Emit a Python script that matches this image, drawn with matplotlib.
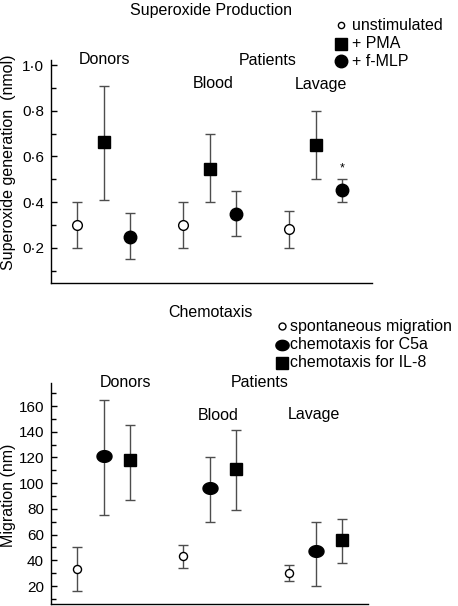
import numpy as np
import matplotlib
matplotlib.use("Agg")
import matplotlib.pyplot as plt
from matplotlib.path import Path
from matplotlib.lines import Line2D

plt.rcParams['font.family'] = ['Liberation Sans', 'DejaVu Sans']
plt.rcParams['font.size'] = 11.5

# ---------------- data ----------------
# Superoxide production (nmol): groups Donors, Blood, Lavage
sup_x_unstim = [1, 5, 9]
sup_x_pma = [2, 6, 10]
sup_x_fmlp = [3, 7, 11]
sup_unstim = [0.30, 0.30, 0.28]
sup_unstim_lo = [0.20, 0.20, 0.20]
sup_unstim_hi = [0.40, 0.40, 0.36]
sup_pma = [0.664, 0.545, 0.65]
sup_pma_lo = [0.41, 0.40, 0.50]
sup_pma_hi = [0.91, 0.70, 0.80]
sup_fmlp = [0.248, 0.347, 0.453]
sup_fmlp_lo = [0.15, 0.25, 0.40]
sup_fmlp_hi = [0.35, 0.45, 0.50]
sup_ticks = [0.2, 0.4, 0.6, 0.8, 1.0]
sup_ticklabels = ['0·2', '0·4', '0·6', '0·8', '1·0']
sup_minor = [0.1, 0.3, 0.5, 0.7, 0.9]

# Chemotaxis migration (nm)
che_x_spont = [1, 5, 9]
che_x_c5a = [2, 6, 10]
che_x_il8 = [3, 7, 11]
che_spont = [33, 43, 30]
che_spont_lo = [16, 34, 24]
che_spont_hi = [50, 52, 36]
che_c5a = [121, 96, 47]
che_c5a_lo = [75, 70, 20]
che_c5a_hi = [165, 120, 70]
che_il8 = [118, 111, 56]
che_il8_lo = [87, 79, 38]
che_il8_hi = [145, 141, 72]
che_ticks = [20, 40, 60, 80, 100, 120, 140, 160]
che_minor = [10, 30, 50, 70, 90, 110, 130, 150, 170]

W, H = 458, 606
fig = plt.figure(figsize=(W / 100, H / 100), dpi=100)

def fx(px):
    return px / W

def fy(py):
    return 1 - py / H

# elliptical marker
t = np.linspace(0, 2 * np.pi, 60)
ellipse = Path(np.column_stack([1.28 * np.cos(t), np.sin(t)]), closed=True)

ecol = '#4d4d4d'

def style_axes(ax):
    for s in ['top', 'right']:
        ax.spines[s].set_visible(False)
    for s in ['left', 'bottom']:
        ax.spines[s].set_linewidth(1.0)
        ax.spines[s].set_color('black')
    ax.tick_params(axis='x', which='both', bottom=False, labelbottom=False)
    ax.tick_params(axis='y', which='major', direction='in', length=4, width=1, pad=4.8, labelsize=11)
    ax.tick_params(axis='y', which='minor', direction='in', length=3.5, width=1)

def eb(ax, x, y, lo, hi, **kw):
    y = np.array(y); lo = np.array(lo); hi = np.array(hi)
    ax.errorbar(x, y, yerr=[y - lo, hi - y], fmt='none', ecolor=ecol,
                elinewidth=1.0, capsize=3.7, capthick=1.0, zorder=2)
    ax.plot(x, y, linestyle='none', zorder=3, **kw)

# ---------------- top panel ----------------
ax1 = fig.add_axes([fx(50.7), fy(282.7), (372 - 50.7) / W, (282.7 - 60) / H])
style_axes(ax1)
ax1.set_xlim(0, 12.12)
ax1.set_ylim(0.047, 1.022)
ax1.set_yticks(sup_ticks, sup_ticklabels)
ax1.set_yticks(sup_minor, minor=True)

eb(ax1, sup_x_unstim, sup_unstim, sup_unstim_lo, sup_unstim_hi,
   marker='o', ms=7, mfc='white', mec='black', mew=1.0)
eb(ax1, sup_x_pma, sup_pma, sup_pma_lo, sup_pma_hi,
   marker='s', ms=9, mfc='black', mec='black')
eb(ax1, sup_x_fmlp, sup_fmlp, sup_fmlp_lo, sup_fmlp_hi,
   marker='o', ms=9, mfc='black', mec='black')
ax1.text(sup_x_fmlp[2], 0.548, '*', ha='center', va='center', fontsize=9)

fig.text(fx(210.7), fy(10), 'Superoxide Production', ha='center', va='center')
fig.text(fx(104), fy(59.5), 'Donors', ha='center', va='center')
fig.text(fx(267.7), fy(60.7), 'Patients', ha='center', va='center')
fig.text(fx(213), fy(84), 'Blood', ha='center', va='center')
fig.text(fx(320.7), fy(84), 'Lavage', ha='center', va='center')
fig.text(fx(9), fy(162.5), 'Superoxide generation  (nmol)', rotation=90,
         ha='center', va='center')

sup_leg = [('unstimulated', 25.3, dict(marker='o', ms=4.5, mfc='white', mec='black', mew=1.0)),
           ('+ PMA', 43.7, dict(marker='s', ms=9, mfc='black', mec='black')),
           ('+ f-MLP', 61.0, dict(marker='o', ms=9, mfc='black', mec='black'))]
for lab, py, st in sup_leg:
    fig.add_artist(Line2D([fx(340.7)], [fy(py)], transform=fig.transFigure, linestyle='none', **st))
    fig.text(fx(352), fy(py), lab, ha='left', va='center')

# ---------------- bottom panel ----------------
ax2 = fig.add_axes([fx(50.7), fy(604.3), (368.3 - 50.7) / W, (604.3 - 383.3) / H])
style_axes(ax2)
ax2.set_xlim(0, 11.98)
ax2.set_ylim(5.8, 177.7)
ax2.set_yticks(che_ticks, [str(v) for v in che_ticks])
ax2.set_yticks(che_minor, minor=True)

eb(ax2, che_x_spont, che_spont, che_spont_lo, che_spont_hi,
   marker='o', ms=5.8, mfc='white', mec='black', mew=1.0)
eb(ax2, che_x_c5a, che_c5a, che_c5a_lo, che_c5a_hi,
   marker=ellipse, ms=10.8, mfc='black', mec='black')
eb(ax2, che_x_il8, che_il8, che_il8_lo, che_il8_hi,
   marker='s', ms=8.2, mfc='black', mec='black')

fig.text(fx(210.7), fy(312.7), 'Chemotaxis', ha='center', va='center')
fig.text(fx(125), fy(382.7), 'Donors', ha='center', va='center')
fig.text(fx(259.3), fy(382.7), 'Patients', ha='center', va='center')
fig.text(fx(218.3), fy(415), 'Blood', ha='center', va='center')
fig.text(fx(314.3), fy(415), 'Lavage', ha='center', va='center')
fig.text(fx(9), fy(495), 'Migration (nm)', rotation=90, ha='center', va='center')

che_leg = [('spontaneous migration', 326, dict(marker='o', ms=5, mfc='white', mec='black', mew=1.0)),
           ('chemotaxis for C5a', 345, dict(marker=ellipse, ms=9.5, mfc='black', mec='black')),
           ('chemotaxis for IL-8', 362.7, dict(marker='s', ms=8, mfc='black', mec='black'))]
for lab, py, st in che_leg:
    fig.add_artist(Line2D([fx(281.7)], [fy(py)], transform=fig.transFigure, linestyle='none', **st))
    fig.text(fx(290.5), fy(py), lab, ha='left', va='center')

fig.savefig('out.png', dpi=100)
